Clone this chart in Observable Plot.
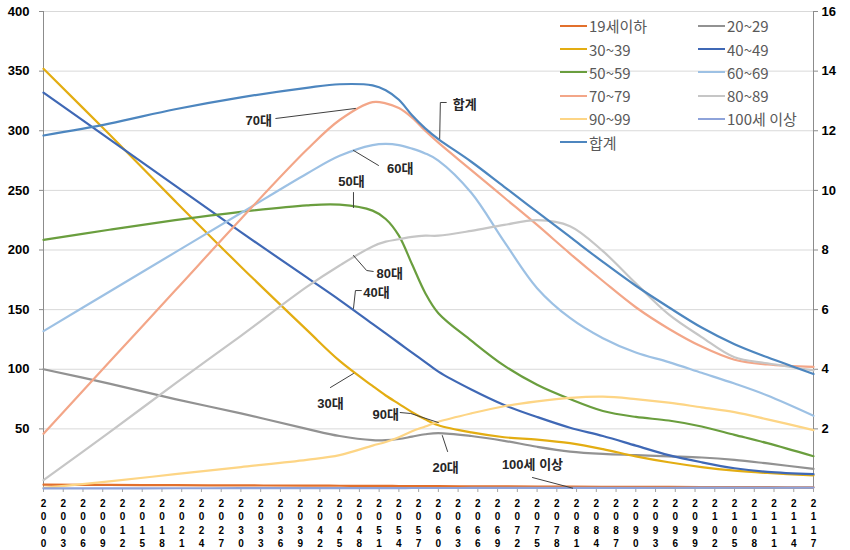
<!DOCTYPE html>
<html><head><meta charset="utf-8">
<script src="https://cdn.jsdelivr.net/npm/d3@7"></script>
<script src="https://cdn.jsdelivr.net/npm/@observablehq/plot@0.6"></script>
<style>
body{margin:0;background:#fff;}
#wrap{position:relative;width:850px;height:550px;}
#legend{position:absolute;left:0;top:0;font-family:"Noto Sans CJK KR","Liberation Sans",sans-serif;font-size:15px;color:#595959;}
.item{position:absolute;display:flex;align-items:center;height:20px;white-space:nowrap;}
.sw{width:27px;height:2px;margin-right:2px;}
</style></head><body><div id="wrap"></div>
<script>
const years = [2000,2010,2020,2030,2040,2045,2050,2052,2054,2056,2058,2060,2065,2070,2075,2080,2085,2090,2095,2100,2105,2110,2117];
const tickYears = d3.range(2000, 2118, 3);
const yTicks = [50,100,150,200,250,300,350,400];
const seriesNames = ["19세이하","20~29","30~39","40~49","50~59","60~69","70~79","80~89","90~99","100세 이상","합계"];
const colors = ["#e2702c","#929292","#e3ad12","#3f68b5","#6a9e3e","#9dc1e4","#f3a688","#c6c6c6","#fdd585","#8ea3da","#4d86bf"];

const v19    = [3.2,3.0,2.8,2.6,2.4,2.3,2.2,2.15,2.1,2.05,2.0,1.95,1.85,1.75,1.65,1.55,1.45,1.4,1.3,1.25,1.2,1.1,1.0];
const v20    = [100,88,75,63,50,44,40.5,40.5,41.5,43.5,45.5,46.5,44,40,35,31,29,28,27,26,24,21,16.5];
const v30    = [352,297,241,186,133,107,86,78,71,64,58,53,47,43,41,38,33,27,22,18,15,13,11];
const v40    = [332,293,254,215,177,158,138,130,122,114,106,98,83,70,60,51,44,36,28,22,17,14,12];
const v50    = [208.5,217,225,232,237.5,238,233,226,212,188,164,147,124,103,87,75,65,60,57,52,45,38,27];
const v60    = [132,165,198,231,264,279,288,289,288,285,281,275,248,207,168,143,126,114,106,97,88,78,61];
const v70    = [46,106,166,226,284,309,324,323,319,311,300,290,267,244,221,197,174,152,134,119,108,104,102];
const v80    = [7,47,88,128,169,187,203,207,209,211,212,212,216,221,225,220,199,172,146,127,110,105,99];
const v90    = [0.5,6,12,18,24,28,36,39,43,48,52,56,63,69,73,76,77,75,72,68,64,58,49];
const v100   = [0.1,0.15,0.2,0.25,0.3,0.3,0.35,0.35,0.35,0.4,0.4,0.4,0.45,0.5,0.5,0.55,0.6,0.6,0.65,0.7,0.7,0.75,0.8];
const vTotal = [296,306,318,328,336,339,338,334,326,313,302,293,274,253,232,211,190,170,152,135,121,110,96];
const seriesValues = [v19,v20,v30,v40,v50,v60,v70,v80,v90,v100,vTotal];

// callout labels (data coordinates) and their leader lines
const labelText  = ["70대","합계","60대","50대","80대","40대","30대","90대","20대","100세 이상"];
const labelYear  = [2032.7,2064.0,2054.2,2046.8,2052.6,2050.6,2043.6,2052.0,2061.1,2074.3];
const labelValue = [308.6,322.0,268.3,257.4,180.3,164.4,71.3,62.0,17.6,20.1];
const leaderPts = [
  [[2035.3,310.3],[2047.4,318.7]],
  [[2061.2,323.7],[2060.3,323.7],[2060.2,293.5]],
  [[2047.1,283.5],[2050.9,270.9]],
  [[2047.1,248.2],[2047.1,235.6]],
  [[2047.1,195.4],[2049.1,182.8],[2050.1,182.0]],
  [[2048.3,166.0],[2047.4,166.0],[2047.1,151.0]],
  [[2043.6,84.7],[2047.1,96.4]],
  [[2054.2,63.7],[2055.8,62.9],[2060.0,55.3]],
  [[2061.4,31.0],[2060.6,44.4]],
  [[2074.3,9.2],[2080.4,0.3]]
];

const data = [];
seriesNames.forEach((name,i)=>years.forEach((yr,j)=>data.push({series:name, year:yr, value:seriesValues[i][j]})));
const labels = labelText.map((t,i)=>({text:t, year:labelYear[i], value:labelValue[i]}));
const leaders = [];
leaderPts.forEach((pts,i)=>pts.forEach(p=>leaders.push({id:i, year:p[0], value:p[1]})));

const font = '"Liberation Sans","Noto Sans CJK KR",sans-serif';
const chart = Plot.plot({
  width:850, height:550,
  marginLeft:43, marginRight:37, marginTop:11, marginBottom:62,
  x:{domain:[2000,2117]},
  y:{domain:[0,400]},
  color:{domain:seriesNames, range:colors},
  style:{fontFamily:font, background:"#fff", overflow:"visible"},
  marks:[
    Plot.gridY(yTicks, {stroke:"#d9d9d9", strokeOpacity:1}),
    Plot.ruleX([2000,2117], {stroke:"#8c8c8c"}),
    Plot.ruleY([0], {stroke:"#a6a6a6"}),
    Plot.axisX(tickYears, {tickSize:4, tickFormat:()=>"", stroke:"#a6a6a6", label:null}),
    Plot.text(tickYears, {x:d=>d, y:0, text:d=>String(d).split("").join("\n"), lineAnchor:"top", dy:9, lineHeight:1.33, fontSize:10, fontWeight:"bold", fill:"#000"}),
    Plot.axisY(yTicks, {anchor:"left", tickSize:4, tickPadding:10, fontSize:13, fontWeight:"bold", stroke:"#8c8c8c", fill:"#000", label:null}),
    Plot.axisY(yTicks, {anchor:"right", tickSize:4, tickPadding:4, tickFormat:d=>d/25, fontSize:13, fontWeight:"bold", stroke:"#8c8c8c", fill:"#000", label:null}),
    Plot.line(data, {x:"year", y:"value", z:"series", stroke:"series", strokeWidth:2.2, curve:"catmull-rom"}),
    Plot.line(leaders, {x:"year", y:"value", z:"id", stroke:"#404040", strokeWidth:1}),
    Plot.text(labels, {x:"year", y:"value", text:"text", fontSize:13, fontWeight:"bold", fill:"#262626", fontFamily:font})
  ]
});
const wrap = document.getElementById("wrap");
wrap.appendChild(chart);

const legend = document.createElement("div");
legend.id = "legend";
seriesNames.forEach((name,i)=>{
  const row = Math.floor(i/2), col = i%2;
  const it = document.createElement("div");
  it.className = "item";
  it.style.left = (560 + col*138) + "px";
  it.style.top = (25.7 + row*23.3 - 10) + "px";
  const sw = document.createElement("span");
  sw.className = "sw"; sw.style.background = colors[i];
  const tx = document.createElement("span");
  tx.textContent = name;
  it.appendChild(sw); it.appendChild(tx);
  legend.appendChild(it);
});
wrap.appendChild(legend);
</script></body></html>
